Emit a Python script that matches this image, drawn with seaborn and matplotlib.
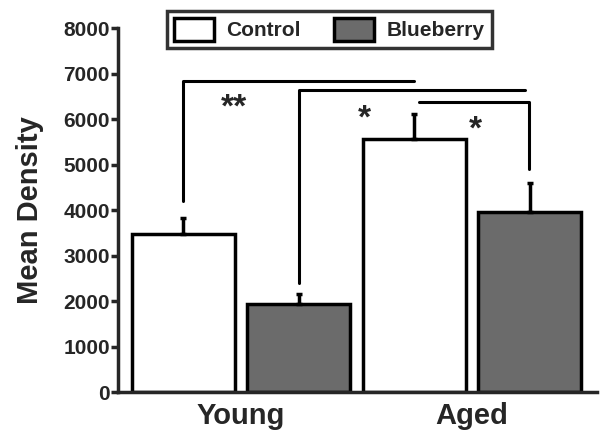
import pandas as pd
import seaborn as sns
import matplotlib.pyplot as plt
from matplotlib.patches import Patch

# values
ages = ["Young", "Aged"]
diets = ["Control", "Blueberry"]
control_means = [3480, 5560]
blueberry_means = [1940, 3960]
control_err = [350, 560]
blueberry_err = [210, 630]

df = pd.DataFrame({
    "age": ages * 2,
    "diet": [diets[0]] * 2 + [diets[1]] * 2,
    "density": control_means + blueberry_means,
    "err": control_err + blueberry_err,
})

sns.set_style("white")
plt.rcParams["font.family"] = ["Liberation Sans", "DejaVu Sans"]
plt.rcParams["font.weight"] = "bold"

fig = plt.figure(figsize=(6, 4.4), dpi=100)
ax = fig.add_axes([0.197, 0.109, 0.798, 0.827])

palette = {"Control": "white", "Blueberry": "#6b6b6b"}
sns.barplot(data=df, x="age", y="density", hue="diet", order=ages,
            hue_order=diets, palette=palette, width=1.0, gap=0.11,
            edgecolor="black", linewidth=2.5, errorbar=None, legend=False, ax=ax)

# error bars, upward only
for bars, (_, grp) in zip(ax.containers, df.groupby("diet", sort=False)):
    for bar, err in zip(bars, grp["err"]):
        cx = bar.get_x() + bar.get_width() / 2
        top = bar.get_height()
        ax.errorbar(cx, top, yerr=[[0], [err]], color="black", elinewidth=2.5,
                    capsize=2.5, capthick=2.5, zorder=1)

# significance brackets
lw = 2.2
ax.plot([-0.25, -0.25, 0.75], [4200, 6830, 6830], color="black", lw=lw, clip_on=False)
ax.plot([0.25, 0.25, 1.23], [2400, 6640, 6640], color="black", lw=lw, clip_on=False)
ax.plot([0.77, 1.245, 1.245], [6380, 6380, 4900], color="black", lw=lw, clip_on=False)
ax.text(-0.03, 6250, "**", ha="center", va="center", fontsize=24)
ax.text(0.535, 6000, "*", ha="center", va="center", fontsize=24)
ax.text(1.015, 5750, "*", ha="center", va="center", fontsize=24)

ax.set_ylim(0, 8000)
ax.set_xlim(-0.532, 1.541)
ax.set_yticks(range(0, 8001, 1000))
ax.tick_params(axis="y", direction="out", length=5, width=2.5, labelsize=15, pad=1, left=True)
ax.tick_params(axis="x", length=0, labelsize=21, pad=7)
for lab in ax.get_xticklabels() + ax.get_yticklabels():
    lab.set_fontweight("bold")
ax.set_xlabel("")
ax.set_ylabel("Mean Density", fontsize=21, fontweight="bold", labelpad=14)

sns.despine(ax=ax)
ax.spines["left"].set_linewidth(2.5)
ax.spines["bottom"].set_linewidth(2.5)

handles = [Patch(facecolor=palette[d], edgecolor="black", linewidth=2.5, label=d) for d in diets]
leg = fig.legend(handles=handles, loc="upper center", bbox_to_anchor=(0.549, 0.99), ncol=2,
                 frameon=True, fancybox=False, fontsize=15, handlelength=1.9, handleheight=1.3,
                 columnspacing=1.6, borderpad=0.35, handletextpad=0.6, borderaxespad=0.3)
leg.get_frame().set_edgecolor("black")
leg.get_frame().set_linewidth(2.5)
for t in leg.get_texts():
    t.set_fontweight("bold")

fig.savefig("out.png", dpi=100)
